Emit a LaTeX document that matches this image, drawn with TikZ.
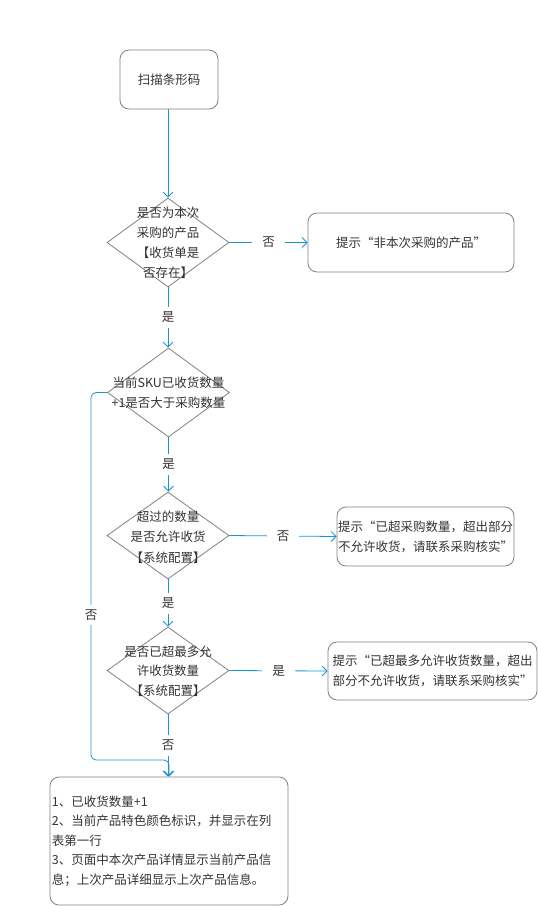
\documentclass[tikz,border=0pt]{standalone}
\usepackage{fontspec}
\setmainfont{Noto Sans CJK SC}
\usetikzlibrary{shapes.geometric,arrows.meta}
\definecolor{lnblue}{HTML}{1A96D4}
\definecolor{bdgray}{HTML}{808080}
\definecolor{txt}{HTML}{333333}
\begin{document}
\begin{tikzpicture}[x=1pt,y=-1pt,
  every node/.style={text=txt, font=\fontsize{12.5}{20}\selectfont},
  rbox/.style={draw=bdgray, rounded corners=9pt, line width=0.8pt, inner sep=0pt, align=center},
  dia/.style={draw=bdgray, shape=diamond, minimum width=122pt, minimum height=89pt, inner sep=0pt, line width=0.8pt},
  dtext/.style={align=center, inner sep=0pt},
  conn/.style={draw=lnblue, line width=0.8pt, -{Straight Barb[length=5pt,width=10pt]}},
  hlbl/.style={fill=white, inner xsep=10pt, inner ysep=2pt},
  vlbl/.style={fill=white, inner xsep=2pt, inner ysep=5pt}]
\useasboundingbox (0,0) rectangle (538,906);

\node[rbox, minimum width=98pt, minimum height=59pt] (start) at (169,79.5) {扫描条形码};

\node[dia] (d1) at (168,242.5) {};
\node[dtext] (d1t) at (168,243) {是否为本次\\采购的产品\\【收货单是\\否存在】};
\node[rbox, minimum width=206pt, minimum height=59pt] (b1) at (411,242.5) {提示“非本次采购的产品”};

\node[dia] (d2) at (168.5,392.5) {};
\node[dtext, font=\fontsize{12.5}{19.5}\selectfont] (d2t) at (168.5,392.5) {当前SKU已收货数量\\+1是否大于采购数量};

\node[dia, minimum height=87pt] (d3) at (168,535.5) {};
\node[dtext, font=\fontsize{12.5}{20.5}\selectfont] (d3t) at (168,537) {超过的数量\\是否允许收货\\【系统配置】};
\node[rbox, minimum width=177pt, minimum height=59pt] (b3) at (425.5,536.5) {提示“已超采购数量，超出部分\\不允许收货，请联系采购核实”};

\node[dia, minimum height=87pt] (d4) at (168,670.5) {};
\node[dtext, font=\fontsize{12.5}{19.5}\selectfont] (d4t) at (168,671) {是否已超最多允\\许收货数量\\【系统配置】};
\node[rbox, minimum width=209pt, minimum height=58pt] (b4) at (432.5,671) {提示“已超最多允许收货数量，超出\\部分不允许收货，请联系采购核实”};

\node[rbox, minimum width=238pt, minimum height=128pt, text width=234pt, inner xsep=2pt, align=left, font=\fontsize{12.5}{19.5}\selectfont] (b5) at (169,841) {1、已收货数量+1\\2、当前产品特色颜色标识，并显示在列\\表第一行\\3、页面中本次产品详情显示当前产品信\\息；上次产品详细显示上次产品信息。};

\coordinate (lp) at (91,760);

\draw[conn] (start.south -| d1.north) -- (d1.north);
\draw[conn] (d1.east) -- node[hlbl] {否} (b1.west);
\draw[conn] (d1.south) -- node[vlbl] {是} (d2.north -| d1.south);
\draw[conn] (d2.south) -- node[vlbl] {是} (d3.north -| d2.south);
\draw[conn] (d3.east) -- node[hlbl] {否} (b3.west);
\draw[conn] (d3.south) -- node[vlbl] {是} (d4.north);
\draw[conn] (d4.east) -- node[hlbl] {是} (b4.west);
\draw[conn] (d4.south) -- node[vlbl] {否} (b5.north -| d4.south);
\draw[conn, rounded corners=5pt] (d2.west) -| (lp) -| (b5.north);
\node[vlbl] (nolbl) at (91,615) {否};
\end{tikzpicture}
\end{document}
